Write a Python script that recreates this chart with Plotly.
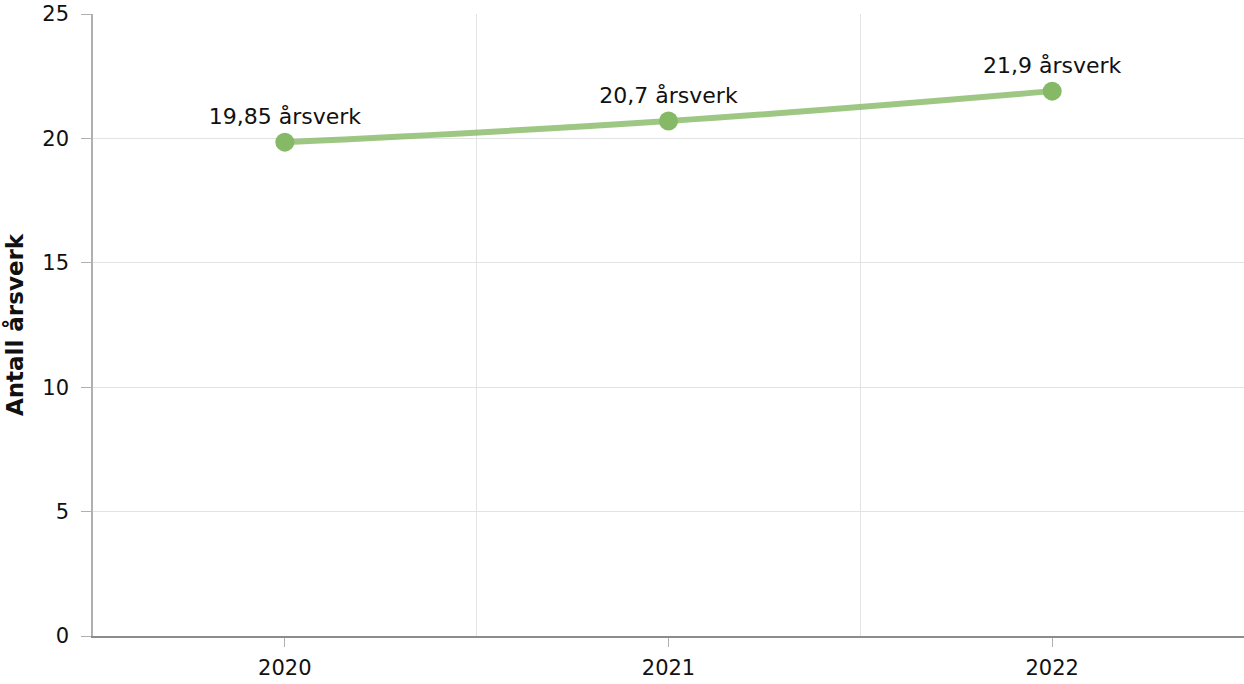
import plotly.graph_objects as go

# Data
aar = [2020, 2021, 2022]
aarsverk = [19.85, 20.7, 21.9]
etiketter = ['19,85 årsverk', '20,7 årsverk', '21,9 årsverk']

fig = go.Figure()

fig.add_trace(go.Scatter(
    x=aar,
    y=aarsverk,
    mode='lines+markers+text',
    line=dict(color='rgba(134,185,101,0.8)', width=6, shape='spline', smoothing=1.3),
    marker=dict(color='#86b965', size=19),
    text=etiketter,
    textposition='top center',
    textfont=dict(size=22, color='#111111'),
    showlegend=False,
    cliponaxis=False,
))

fig.update_layout(
    width=1244,
    height=684,
    margin=dict(l=93, r=0, t=14, b=48),
    plot_bgcolor='white',
    paper_bgcolor='white',
    font=dict(family='DejaVu Sans, Verdana, sans-serif', size=21, color='#111111'),
    xaxis=dict(
        range=[2019.5, 2022.5],
        tickvals=aar,
        ticktext=[str(a) for a in aar],
        showgrid=False,
        showline=True,
        linecolor='#8c8c8c',
        linewidth=1.5,
        ticks='outside',
        ticklen=9,
        tickcolor='#b0b0b0',
        ticklabelstandoff=3,
        tickfont=dict(size=21, color='#111111'),
        minor=dict(tick0=2019.5, dtick=1, showgrid=True, gridcolor='#e3e3e3', gridwidth=1, ticks=''),
        zeroline=False,
    ),
    yaxis=dict(
        range=[0, 25],
        dtick=5,
        showgrid=True,
        gridcolor='#e3e3e3',
        gridwidth=1,
        showline=True,
        linecolor='#b0b0b0',
        linewidth=1.5,
        ticks='outside',
        ticklen=10,
        tickcolor='#b0b0b0',
        ticklabelstandoff=8,
        tickfont=dict(size=21, color='#111111'),
        zeroline=False,
        title=dict(text='<b>Antall årsverk</b>', font=dict(size=23, color='#111111'), standoff=12),
    ),
)

# fjern standard body-marg slik at figuren starter i hjørnet
fig.write_html("out.html", config={'displayModeBar': False},
               post_script="document.body.style.margin='0';")
